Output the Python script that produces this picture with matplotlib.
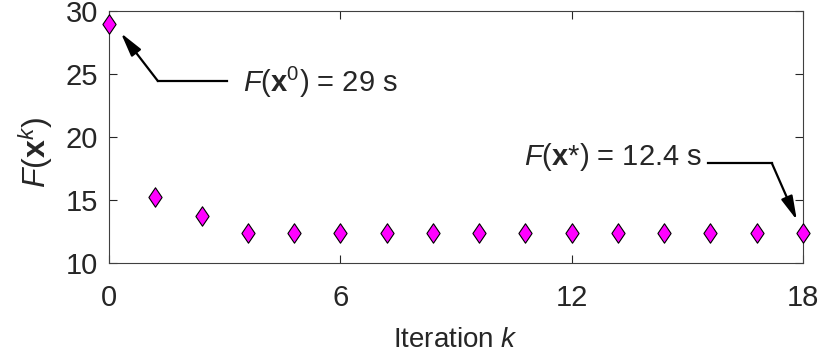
import numpy as np
import matplotlib
matplotlib.use("Agg")
import matplotlib.pyplot as plt
from matplotlib.path import Path

plt.rcParams['font.family'] = ['Liberation Sans', 'DejaVu Sans']
plt.rcParams['mathtext.fontset'] = 'custom'
plt.rcParams['mathtext.rm'] = 'Liberation Sans'
plt.rcParams['mathtext.it'] = 'Liberation Sans:italic'
plt.rcParams['mathtext.bf'] = 'Liberation Sans:bold'

# data
iterations = [0, 1.2, 2.4, 3.6, 4.8, 6.0, 7.2, 8.4, 9.6, 10.8,
              12.0, 13.2, 14.4, 15.6, 16.8, 18.0]
cost = [29.0, 15.2, 13.7, 12.4, 12.4, 12.4, 12.4, 12.4, 12.4, 12.4,
        12.4, 12.4, 12.4, 12.4, 12.4, 12.4]
x_ticks = [0, 6, 12, 18]
y_ticks = [10, 15, 20, 25, 30]

text_col = '#262626'
fig = plt.figure(figsize=(8.28, 3.56), dpi=100)
ax = fig.add_axes([0.1316, 0.2612, 0.8382, 0.7078])

# tall diamond like matlab's 'd'
diamond = Path([(0, 1), (0.68, 0), (0, -1), (-0.68, 0), (0, 1)],
               [Path.MOVETO, Path.LINETO, Path.LINETO, Path.LINETO, Path.CLOSEPOLY])
ax.plot(iterations, cost, linestyle='none', marker=diamond, markersize=14,
        markerfacecolor='#FF00FF', markeredgecolor='black', markeredgewidth=0.8,
        clip_on=False, zorder=5)

ax.set_xlim(0, 18)
ax.set_ylim(10, 30)
ax.set_xticks(x_ticks)
ax.set_yticks(y_ticks)
ax.tick_params(direction='in', length=6, width=0.8, colors=text_col,
               labelsize=21, top=True, right=True)
ax.tick_params(axis='x', pad=15)
ax.tick_params(axis='y', pad=8)
for s in ax.spines.values():
    s.set_color('#404040')
    s.set_linewidth(0.8)

ax.set_xlabel(r'Iteration $\mathit{k}$', fontsize=20, color=text_col, labelpad=11)
ax.set_ylabel(r'$\mathit{F}(\mathbf{x}^{k})$', fontsize=23, color=text_col)
ax.yaxis.set_label_coords(-0.078, 0.44)

arrow_style = dict(arrowstyle='-|>,head_length=0.8,head_width=0.2', color='black',
                   lw=1.6, mutation_scale=18, shrinkA=0, shrinkB=0)

# callout for the starting point
ax.plot([3.06, 1.27], [24.44, 24.44], color='black', lw=1.6, clip_on=False)
ax.annotate('', xy=(0.31, 28.25), xytext=(1.27, 24.44), arrowprops=arrow_style)
ax.text(3.47, 24.3, r'$\mathit{F}(\mathbf{x}^{0})$ = 29 s', fontsize=21,
        color=text_col, ha='left', va='center')

# callout for the optimum
ax.plot([15.53, 17.19], [17.94, 17.94], color='black', lw=1.6, clip_on=False)
ax.annotate('', xy=(17.84, 13.41), xytext=(17.19, 17.94), arrowprops=arrow_style)
ax.text(15.38, 18.4, r'$\mathit{F}(\mathbf{x}$*) = 12.4 s', fontsize=21,
        color=text_col, ha='right', va='center')

fig.savefig('out.png', dpi=100)
